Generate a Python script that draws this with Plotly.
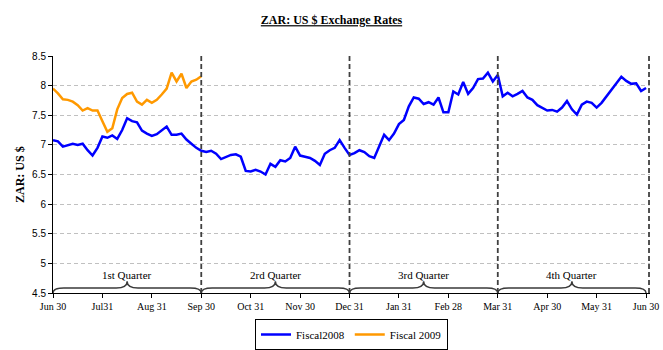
import numpy as np
import plotly.graph_objects as go

# Month-end labels along the fiscal year (Jul - Jun), one per tick
month_labels = ["Jun 30", "Jul31", "Aug 31", "Sep 30", "Oct 31", "Nov 30", "Dec 31",
                "Jan 31", "Feb 28", "Mar 31", "Apr 30", "May 31", "Jun 30"]

quarter_labels = ["1st Quarter", "2rd Quarter", "3rd Quarter", "4th Quarter"]

# ZAR per US$ sampled ten times per month
fiscal_2008 = [
    7.08, 7.06, 6.97, 7.00, 7.02, 7.00, 7.02, 6.91, 6.82, 6.95,
    7.14, 7.12, 7.16, 7.10, 7.25, 7.45, 7.40, 7.38, 7.24, 7.19,
    7.15, 7.18, 7.24, 7.31, 7.17, 7.17, 7.19, 7.09, 7.02, 6.95,
    6.90, 6.88, 6.90, 6.85, 6.76, 6.80, 6.83, 6.84, 6.80, 6.56,
    6.55, 6.58, 6.55, 6.50, 6.68, 6.63, 6.74, 6.72, 6.78, 6.97,
    6.82, 6.80, 6.78, 6.73, 6.66, 6.85, 6.91, 6.95, 7.08, 6.95,
    6.83, 6.86, 6.91, 6.88, 6.81, 6.78, 6.98, 7.17, 7.08, 7.19,
    7.35, 7.42, 7.65, 7.80, 7.78, 7.69, 7.72, 7.68, 7.80, 7.55,
    7.55, 7.90, 7.85, 8.06, 7.86, 7.96, 8.11, 8.12, 8.22, 8.07,
    8.18, 7.82, 7.88, 7.82, 7.86, 7.91, 7.80, 7.76, 7.67, 7.62,
    7.58, 7.59, 7.56, 7.63, 7.74, 7.60, 7.51, 7.68, 7.73, 7.71,
    7.63, 7.71, 7.82, 7.92, 8.04, 8.15, 8.08, 8.03, 8.04, 7.91,
    7.96,
]

fiscal_2009 = [
    7.95, 7.87, 7.77, 7.76, 7.73, 7.67, 7.58, 7.62, 7.58, 7.58,
    7.40, 7.22, 7.28, 7.60, 7.79, 7.86, 7.88, 7.73, 7.68, 7.76,
    7.71, 7.76, 7.85, 7.95, 8.22, 8.07, 8.20, 7.96, 8.07, 8.10,
    8.16,
]

SAMPLES_PER_MONTH = 10
x08 = np.arange(len(fiscal_2008)) / SAMPLES_PER_MONTH
x09 = np.arange(len(fiscal_2009)) / SAMPLES_PER_MONTH

SERIF = "Liberation Serif, Times New Roman, serif"
SANS = "Liberation Sans, Arial, sans-serif"

W, H = 663, 350
ML, MR, MT, MB = 53, 13, 56, 57
plot_w = W - ML - MR
plot_h = H - MT - MB


def px_x(px):
    """Horizontal pixel position -> paper coordinate."""
    return (px - ML) / plot_w


def px_y(py):
    """Vertical pixel position -> paper coordinate."""
    return (H - MB - py) / plot_h


fig = go.Figure()
fig.add_trace(go.Scatter(x=x08, y=fiscal_2008, mode="lines", name="Fiscal2008",
                         line=dict(color="#0000FF", width=2.5)))
fig.add_trace(go.Scatter(x=x09, y=fiscal_2009, mode="lines", name="Fiscal 2009",
                         line=dict(color="#FF9900", width=2.5)))

Y0, Y1 = 4.5, 8.5

# Quarter boundaries
shapes = []
for qx in [3, 6, 9, 12.06]:
    shapes.append(dict(type="line", xref="x", yref="y", x0=qx, x1=qx, y0=Y0, y1=Y1,
                       line=dict(color="#404040", width=1.8, dash="5px,3px"), layer="above"))

# Curly braces spanning each quarter
BR_FLAT, BR_TIP, C = 4.585, 4.70, 0.22
annotations = []
for q, label in enumerate(quarter_labels):
    a = q * 3
    b = a + 3
    m = a + 1.5
    path = (f"M {a},{Y0} Q {a},{BR_FLAT} {a + C},{BR_FLAT} "
            f"L {m - C},{BR_FLAT} Q {m},{BR_FLAT} {m},{BR_TIP} "
            f"Q {m},{BR_FLAT} {m + C},{BR_FLAT} "
            f"L {b - C},{BR_FLAT} Q {b},{BR_FLAT} {b},{Y0}")
    shapes.append(dict(type="path", xref="x", yref="y", path=path,
                       line=dict(color="#3a3a3a", width=1.4)))
    annotations.append(dict(x=m, y=4.80, xref="x", yref="y", text=label, showarrow=False,
                            font=dict(family=SERIF, size=11, color="black")))

# Vertical axis title
annotations.append(dict(x=px_x(20), y=px_y(175), xref="paper", yref="paper",
                        xanchor="center", yanchor="middle",
                        text="<b>ZAR: US $</b>", showarrow=False, textangle=-90,
                        font=dict(family=SERIF, size=12, color="black")))

fig.update_layout(
    width=W, height=H,
    margin=dict(l=ML, r=MR, t=MT, b=MB, autoexpand=False),
    paper_bgcolor="white", plot_bgcolor="white",
    title=dict(text="<b><span style='text-decoration:underline'>ZAR: US $ Exchange Rates</span></b>",
               x=0.5, xref="container", xanchor="center", y=1 - 20 / H, yanchor="middle",
               font=dict(family=SERIF, size=12, color="black")),
    showlegend=True,
    legend=dict(orientation="h", x=0.5, xanchor="center", y=px_y(319), yanchor="top",
                font=dict(family=SERIF, size=11, color="black"),
                bordercolor="black", borderwidth=1, bgcolor="white",
                itemwidth=30, tracegroupgap=0),
    shapes=shapes,
    annotations=annotations,
)

fig.update_xaxes(range=[0, 12.08], tickmode="array", tickvals=list(range(13)),
                 ticktext=month_labels, showgrid=False, zeroline=False,
                 showline=True, linecolor="black", linewidth=1,
                 ticks="outside", ticklen=4, tickcolor="black",
                 tickfont=dict(family=SERIF, size=10, color="black"))
fig.update_yaxes(range=[Y0, Y1], dtick=0.5, tick0=4.5, showgrid=True,
                 gridcolor="#C0C0C0", gridwidth=1, griddash="4px,3px", zeroline=False,
                 showline=True, linecolor="black", linewidth=1,
                 ticks="outside", ticklen=4, tickcolor="black",
                 tickfont=dict(family=SANS, size=10, color="black"))

fig.write_html("out.html")
